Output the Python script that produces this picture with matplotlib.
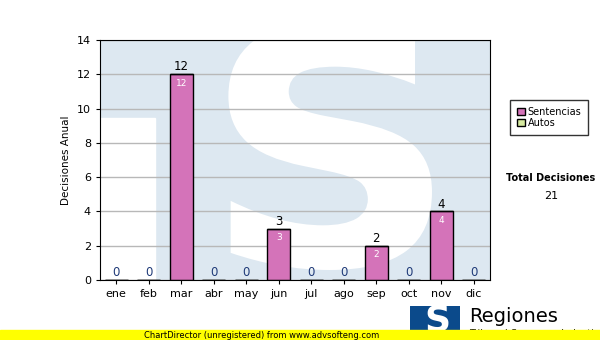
import numpy as np
import matplotlib as mpl
import matplotlib.pyplot as plt
from matplotlib.patches import Rectangle, PathPatch
from matplotlib.textpath import TextPath
from matplotlib.font_manager import FontProperties
from matplotlib.path import Path

meses = ['ene', 'feb', 'mar', 'abr', 'may', 'jun', 'jul', 'ago', 'sep', 'oct', 'nov', 'dic']
sentencias = [0, 0, 12, 0, 0, 3, 0, 0, 2, 0, 4, 0]
autos = [0, 0, 0, 0, 0, 0, 0, 0, 0, 0, 0, 0]
total_decisiones = 21

W, H = 600, 340
fig = plt.figure(figsize=(6, 3.4), dpi=100)
fig.patch.set_facecolor('w')

# plot area in pixels: x 100..490, y 40..280
ax = fig.add_axes([100/W, 1-280/H, 390/W, 240/H])
ax.set_xlim(-0.5, 11.5)
ax.set_ylim(0, 14)

# watermark logo (light blue block, white S stretched into a box)
ax.add_patch(Rectangle((0, 0), 1, 1, transform=ax.transAxes, color='#dde8f1', zorder=0))
ax.add_patch(Rectangle((0, 0), 55/390, 162/240, transform=ax.transAxes, color='w', zorder=0))
tp = TextPath((0, 0), 'S', size=1, prop=FontProperties(family='DejaVu Sans', weight='bold'))
v = tp.vertices.copy()
x0, x1, y0, y1 = (203-100)/390, (432-100)/390, (280-270)/240, (280-22)/240
v[:, 0] = x0 + (v[:, 0] - v[:, 0].min()) / np.ptp(v[:, 0]) * (x1 - x0)
v[:, 1] = y0 + (v[:, 1] - v[:, 1].min()) / np.ptp(v[:, 1]) * (y1 - y0)
sp = PathPatch(Path(v, tp.codes), transform=ax.transAxes, fc='w', ec='none', zorder=0)
ax.add_patch(sp)
sp.set_clip_path(ax.patch)

ax.set_yticks(np.arange(0, 15, 2))
ax.yaxis.grid(True, color='#b8b8b8', lw=1)
ax.set_axisbelow(True)

x = np.arange(len(meses))
ax.bar(x, sentencias, width=0.72, color='#d473b9', edgecolor='k', lw=1, zorder=2)
ax.bar(x, autos, bottom=sentencias, width=0.72, color='#d6eaa0', edgecolor='k', lw=1, zorder=2)

for xi, val in zip(x, sentencias):
    if val > 0:
        ax.text(xi, val + 0.05, str(val), ha='center', va='bottom', fontsize=8.5, color='k', zorder=3)
        ax.text(xi, val - 0.25, str(val), ha='center', va='top', fontsize=6.5, color='w', zorder=3)
    else:
        ax.text(xi, val + 0.05, str(val), ha='center', va='bottom', fontsize=8.5, color='#1f3a78', zorder=3)

ax.set_xticks(x)
ax.set_xticklabels(meses)
ax.tick_params(labelsize=8, length=3, color='k')
for s in ax.spines.values():
    s.set_color('k')
ax.set_ylabel('Decisiones Anual', fontsize=7.5, labelpad=4)

# legend
leg = ax.legend([Rectangle((0, 0), 1, 1, fc='#d473b9', ec='k'),
                 Rectangle((0, 0), 1, 1, fc='#d6eaa0', ec='k')],
                ['Sentencias', 'Autos'], loc='upper left',
                bbox_to_anchor=(510/W, 1-100/H), bbox_transform=fig.transFigure,
                borderaxespad=0, fontsize=7, frameon=True, fancybox=False, edgecolor='k',
                handlelength=0.8, handleheight=0.8, handletextpad=0.3,
                borderpad=0.7, labelspacing=0.1)
leg.get_frame().set_linewidth(1)

fig.text(551/W, 1-178/H, 'Total Decisiones', fontsize=7, fontweight='bold', ha='center', va='center')
fig.text(551/W, 1-196/H, str(total_decisiones), fontsize=8, ha='center', va='center')

# footer logo
lax = fig.add_axes([410/W, 1-331/H, 50/W, 25/H])
lax.set_axis_off()
lax.add_patch(Rectangle((0, 0), 1, 1, transform=lax.transAxes, color='#0b4a8b'))
lax.text(0.55, 0.42, 'S', transform=lax.transAxes, fontsize=26, fontweight='bold',
         color='w', ha='center', va='center', clip_on=True)
fig.text(469/W, 1-316/H, 'Regiones', fontsize=14, ha='left', va='center')
fig.text(469/W, 1-334/H, 'Tribunal Supremo de Justicia', fontsize=7, ha='left', va='center')

# unregistered band
fig.add_artist(Rectangle((0, 0), 1, 10/H, transform=fig.transFigure, color='#ffff00', zorder=10))
fig.text(262/W, 5/H, 'ChartDirector (unregistered) from www.advsofteng.com', fontsize=6,
         ha='center', va='center', zorder=11)

fig.savefig('out.png', dpi=100)
